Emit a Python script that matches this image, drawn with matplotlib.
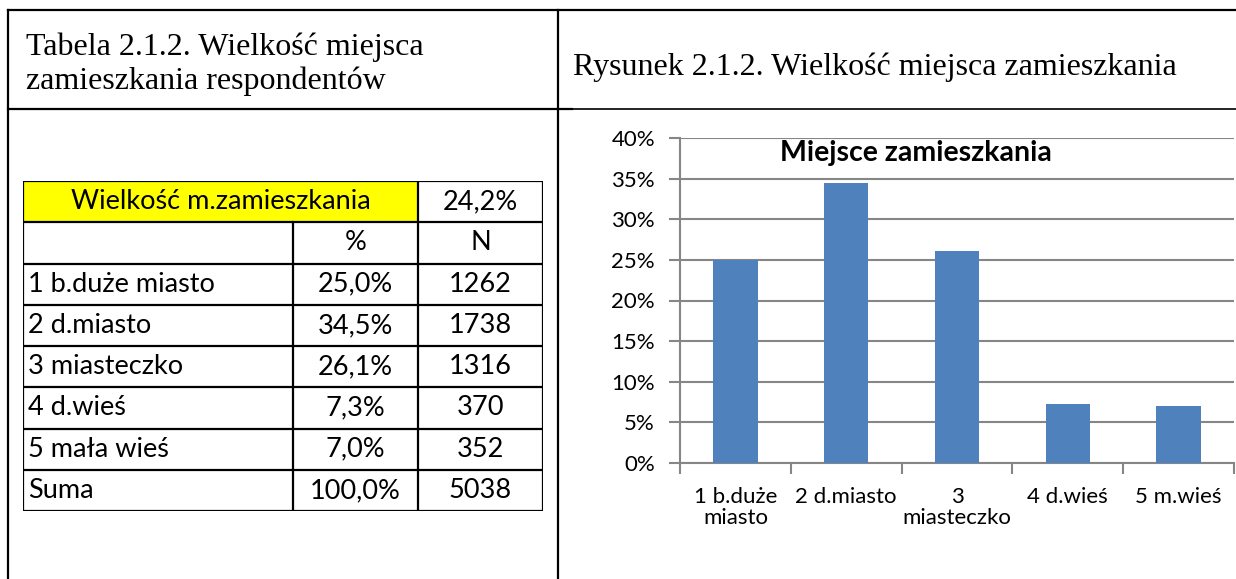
import numpy as np
import matplotlib.pyplot as plt

# --- data ---
categories = ["1 b.duże\nmiasto", "2 d.miasto", "3\nmiasteczko", "4 d.wieś", "5 m.wieś"]
shares = [0.250, 0.345, 0.261, 0.073, 0.070]

row_labels = ["1 b.duże miasto", "2 d.miasto", "3 miasteczko", "4 d.wieś", "5 mała wieś", "Suma"]
row_pct = ["25,0%", "34,5%", "26,1%", "7,3%", "7,0%", "100,0%"]
row_n = ["1262", "1738", "1316", "370", "352", "5038"]
header_label = "Wielkość m.zamieszkania"
header_value = "24,2%"

W, H = 1236, 579
fig = plt.figure(figsize=(W / 100, H / 100), dpi=100)

serif = "Liberation Serif"
sans = "Lato"
bar_color = "#4F81BD"
grid_color = "#868686"

# --- page frame and captions ---
bg = fig.add_axes([0, 0, 1, 1])
bg.set_xlim(0, W)
bg.set_ylim(H, 0)
bg.axis("off")
lw = 1.6
bg.plot([8, W], [10, 10], color="black", lw=lw)
bg.plot([8, 8], [10, H], color="black", lw=lw)
bg.plot([558, 558], [10, H], color="black", lw=lw)
bg.plot([8, 572], [108.5, 108.5], color="black", lw=lw)
bg.plot([572, W], [108.5, 108.5], color="black", lw=1.2)

fs_cap = 23
bg.text(26, 47, "Tabela 2.1.2. Wielkość miejsca", family=serif, fontsize=fs_cap,
        ha="left", va="center")
bg.text(26, 81, "zamieszkania respondentów", family=serif, fontsize=fs_cap,
        ha="left", va="center")
bg.text(573, 67, "Rysunek 2.1.2. Wielkość miejsca zamieszkania", family=serif,
        fontsize=fs_cap, ha="left", va="center")

# --- table ---
tx0, ty0, tx1, ty1 = 23, 181, 543, 511
tab = fig.add_axes([tx0 / W, 1 - ty1 / H, (tx1 - tx0) / W, (ty1 - ty0) / H])
col_edges = [0, 270, 395, 520]
n_rows = len(row_labels) + 2
tab.set_xlim(0, col_edges[-1])
tab.set_ylim(n_rows, 0)
tab.axis("off")

tab.fill_between([col_edges[0], col_edges[2]], 0, 1, color="#FFFF00", lw=0)
tlw = 1.6
for r in range(n_rows + 1):
    tab.plot([0, col_edges[-1]], [r, r], color="black", lw=tlw, solid_capstyle="projecting")
for i, x in enumerate(col_edges):
    y_start = 1 if i == 1 else 0
    tab.plot([x, x], [y_start, n_rows], color="black", lw=tlw, solid_capstyle="projecting")

fs_tab = 19.5
mid1 = (col_edges[1] + col_edges[2]) / 2
mid2 = (col_edges[2] + col_edges[3]) / 2
tab.text((col_edges[0] + col_edges[2]) / 2, 0.5, header_label, family=sans,
         fontsize=fs_tab, ha="center", va="center")
tab.text(mid2, 0.5, header_value, family=sans, fontsize=fs_tab, ha="center", va="center")
tab.text(mid1, 1.5, "%", family=sans, fontsize=fs_tab, ha="center", va="center")
tab.text(mid2, 1.5, "N", family=sans, fontsize=fs_tab, ha="center", va="center")
for i, (lab, p, n) in enumerate(zip(row_labels, row_pct, row_n)):
    y = i + 2.5
    tab.text(5, y, lab, family=sans, fontsize=fs_tab, ha="left", va="center")
    tab.text(mid1, y, p, family=sans, fontsize=fs_tab, ha="center", va="center")
    tab.text(mid2, y, n, family=sans, fontsize=fs_tab, ha="center", va="center")

# --- bar chart ---
cx0, cy0, cx1, cy1 = 680, 138, 1234, 463
ax = fig.add_axes([cx0 / W, 1 - cy1 / H, (cx1 - cx0) / W, (cy1 - cy0) / H])
x = np.arange(len(categories))
ax.bar(x, shares, width=0.4, color=bar_color, zorder=3)
ax.set_xlim(-0.5, len(categories) - 0.5)
ax.set_ylim(0, 0.40)

yt = np.arange(0, 0.401, 0.05)
ax.set_yticks(yt)
ax.set_yticklabels([f"{int(round(v * 100))}%" for v in yt], family=sans, fontsize=16)
ax.yaxis.grid(True, color=grid_color, lw=1.5, zorder=0)
ax.set_xticks(np.arange(-0.5, len(categories)))
ax.set_xticklabels([])
ax.set_xticks(x, minor=True)
ax.set_xticklabels(categories, minor=True, family=sans, fontsize=16, linespacing=1.1)
ax.tick_params(axis="x", which="minor", length=0, pad=17)
ax.tick_params(axis="x", which="major", length=8, width=1.5, color=grid_color)
ax.tick_params(axis="y", length=8, width=1.5, color=grid_color, pad=10)
for s in ["top", "right"]:
    ax.spines[s].set_visible(False)
for s in ["left", "bottom"]:
    ax.spines[s].set_color(grid_color)
    ax.spines[s].set_linewidth(1.5)

ax.text(0.426, 0.955, "Miejsce zamieszkania", transform=ax.transAxes, family=sans,
        fontsize=20.5, fontweight="bold", ha="center", va="center")

fig.savefig("out.png", dpi=100)
